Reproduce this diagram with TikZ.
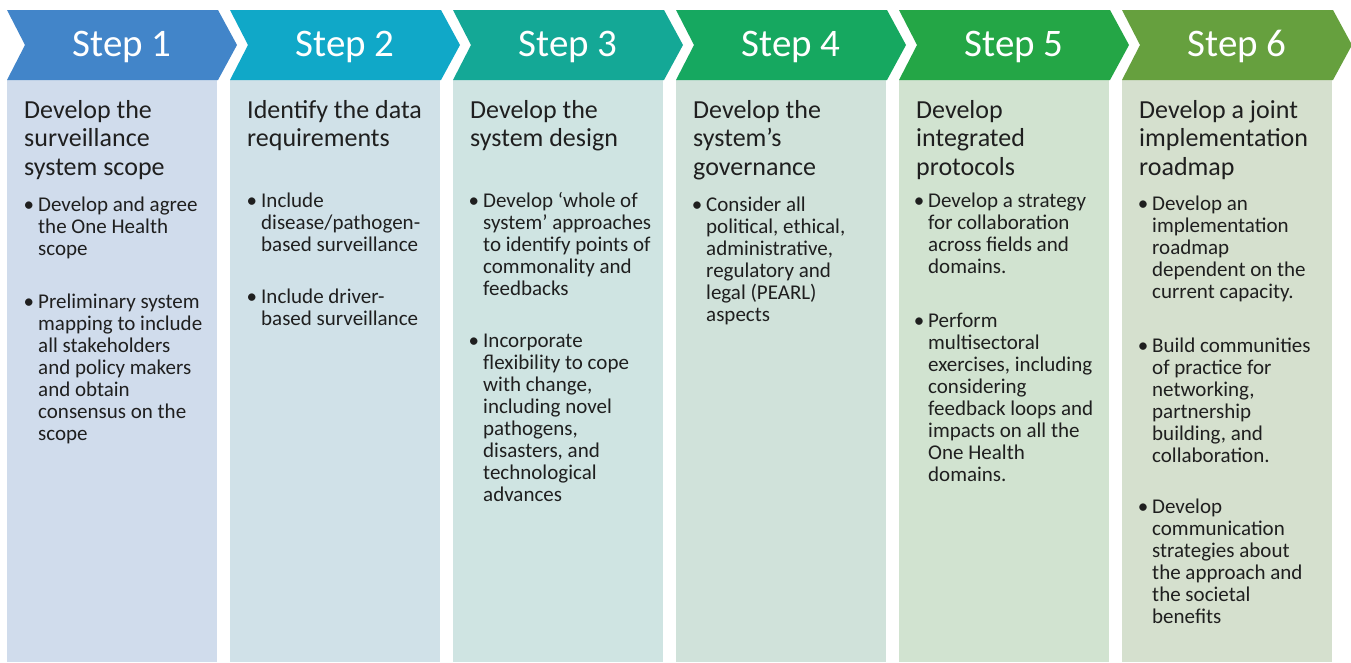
\documentclass[tikz,border=0pt]{standalone}
\usepackage{fontspec}
\setmainfont{Carlito}
\definecolor{stepA}{RGB}{66,133,201}
\definecolor{stepB}{RGB}{16,168,200}
\definecolor{stepC}{RGB}{20,168,150}
\definecolor{stepD}{RGB}{22,168,96}
\definecolor{stepE}{RGB}{36,166,70}
\definecolor{stepF}{RGB}{102,160,62}
\definecolor{panelA}{RGB}{208,220,236}
\definecolor{panelB}{RGB}{208,225,232}
\definecolor{panelC}{RGB}{207,228,226}
\definecolor{panelD}{RGB}{208,226,218}
\definecolor{panelE}{RGB}{209,227,208}
\definecolor{panelF}{RGB}{213,224,206}
\colorlet{bodytext}{black!88}
\newcommand\dotmark{\llap{\textbullet\hspace{4pt}}}
\tikzset{steplabel/.style={anchor=base,text=white,inner sep=0,font=\fontsize{39}{42}\selectfont},
         panelbox/.style={anchor=north west,inner sep=0,minimum width=210pt,minimum height=582pt},
         heading/.style={anchor=base west,align=left,inner sep=0,text=bodytext,font=\fontsize{26}{28.5}\selectfont},
         itemtext/.style={anchor=base west,align=left,inner sep=0,text=bodytext,font=\fontsize{21}{22}\selectfont}
}

\begin{document}
\begin{tikzpicture}[x=1pt,y=-1pt]
  \fill[white](0,0)rectangle(1351,662);
  \useasboundingbox(0,0)rectangle(1351,662);
  \foreach\n/\col/\pan in {1/stepA/panelA,2/stepB/panelB,3/stepC/panelC,4/stepD/panelD,5/stepE/panelE,6/stepF/panelF} {
     \pgfmathsetmacro\xo{7+(\n-1)*223}
     \node[panelbox,fill=\pan](panel\n)at(\xo,80){};
     \fill[\col](\xo,10)--++(211,0)--++(19,35)--++(-19,35)--++(-211,0)--++(18,-35)--cycle;
     \node[steplabel](step\n)at(\xo+115,56){Step \n};
   }
   % headings (placed at the baseline of their last line)
   \node[heading](head1)at(24,175){Develop the\\surveillance\\system scope};
   \node[heading](head2)at(247,146.5){Identify the data\\requirements};
   \node[heading](head3)at(470,146.5){Develop the\\system design};
   \node[heading](head4)at(693,175){Develop the\\system’s\\governance};
   \node[heading](head5)at(916,175){Develop\\integrated\\protocols};
   \node[heading](head6)at(1139,175){Develop a joint\\implementation\\roadmap};
   % bullet points
   \node[itemtext](item11)at(38,255){\dotmark Develop and agree\\the One Health\\scope};
   \node[itemtext](item12)at(38,440){\dotmark Preliminary system\\mapping to include\\all stakeholders\\and policy makers\\and obtain\\consensus on the\\scope};
   \node[itemtext](item21)at(261,251){\dotmark Include\\disease/pathogen-\\based surveillance};
   \node[itemtext](item22)at(261,325){\dotmark Include driver-\\based surveillance};
   \node[itemtext](item31)at(483,295){\dotmark Develop ‘whole of\\system’ approaches\\to identify points of\\commonality and\\feedbacks};
   \node[itemtext](item32)at(483,501){\dotmark Incorporate\\flexibility to cope\\with change,\\including novel\\pathogens,\\disasters, and\\technological\\advances};
   \node[itemtext](item41)at(706,321){\dotmark Consider all\\political, ethical,\\administrative,\\regulatory and\\legal (PEARL)\\aspects};
   \node[itemtext](item51)at(928,273){\dotmark Develop a strategy\\for collaboration\\across fields and\\domains.};
   \node[itemtext](item52)at(928,481){\dotmark Perform\\multisectoral\\exercises, including\\considering\\feedback loops and\\impacts on all the\\One Health\\domains.};
   \node[itemtext](item61)at(1152,298){\dotmark Develop an\\implementation\\roadmap\\dependent on the\\current capacity.};
   \node[itemtext](item62)at(1152,462){\dotmark Build communities\\of practice for\\networking,\\partnership\\building, and\\collaboration.};
   \node[itemtext](item63)at(1152,623){\dotmark Develop\\communication\\strategies about\\the approach and\\the societal\\benefits};
\end{tikzpicture}
\end{document}
